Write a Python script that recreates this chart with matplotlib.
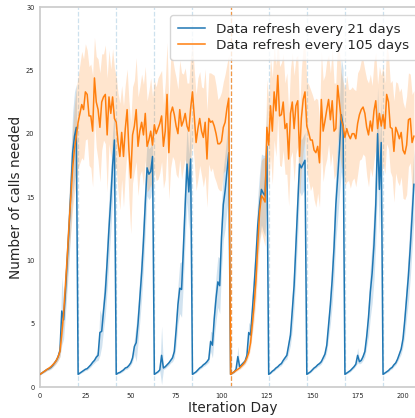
import numpy as np
import matplotlib
matplotlib.use("Agg")
import matplotlib.pyplot as plt

# ---------------- data ----------------
days = list(range(0, 207))

# refresh every 21 days: mean per cycle
blue_c1 = [1.0,1.1,1.2,1.3,1.4,1.45,1.55,1.7,1.9,2.1,2.4,2.9,6.0,5.3,7.5,10.0,12.5,15.5,18.5,19.8,20.5]
blue_c2 = [1.0,1.1,1.2,1.3,1.4,1.45,1.6,1.75,1.95,2.1,2.35,2.5,4.3,4.4,6.0,7.5,9.9,12.5,14.8,17.5,19.5]
blue_c3 = [1.0,1.1,1.15,1.25,1.35,1.5,1.55,1.7,1.9,2.3,3.2,3.5,5.0,7.0,9.0,11.5,14.5,17.3,16.8,17.0,18.2]
blue_c4 = [1.0,1.1,1.2,1.35,2.5,1.5,1.6,1.75,1.9,2.1,2.3,2.8,4.5,6.5,7.8,7.7,10.9,14.4,17.6,15.4,18.0]
blue_c5 = [1.0,1.1,1.2,1.35,1.5,1.6,1.75,1.85,2.0,2.2,3.6,3.3,5.4,7.0,8.3,8.0,11.8,14.4,15.5,17.0,18.5]
blue_c6 = [1.0,1.1,1.2,1.4,2.4,1.6,1.75,1.9,2.05,2.5,4.3,4.1,6.0,8.0,10.2,12.8,14.4,15.6,15.3,15.1,19.0]
blue_c7 = [1.0,1.1,1.25,1.35,1.5,1.6,1.75,1.85,2.1,2.3,2.5,3.3,4.1,6.0,8.0,11.2,14.4,17.6,17.3,17.6,17.9]
blue_c8 = [1.0,1.1,1.2,1.35,1.5,1.6,1.75,1.85,2.0,2.3,2.6,3.3,4.9,6.5,8.5,11.0,14.4,16.5,18.8,21.5,20.6]
blue_c9 = [1.0,1.1,1.2,1.3,1.45,1.6,1.8,2.5,2.0,2.1,2.4,2.8,4.0,5.5,7.5,9.0,11.2,14.4,20.0,15.6,19.3]
blue_c10 = [1.0,1.1,1.2,1.3,1.45,1.55,1.75,1.9,2.2,2.6,3.0,3.8,5.3,7.0,8.8,11.0,13.5,16.0]

# refresh every 21 days: CI half-width per cycle
blue_s1 = [0.05,0.06,0.08,0.1,0.1,0.12,0.14,0.16,0.18,0.2,0.3,0.5,2.7,1.5,1.8,2.2,2.6,2.8,3.2,3.5,3.4]
blue_s2 = [0.05,0.06,0.08,0.1,0.1,0.12,0.14,0.16,0.18,0.2,0.3,0.4,1.8,1.2,1.5,1.8,2.2,2.5,2.5,2.6,2.5]
blue_s3 = [0.05,0.06,0.08,0.1,0.1,0.12,0.14,0.16,0.18,0.3,0.6,1.5,1.5,1.8,2.0,2.2,2.4,2.2,2.0,2.0,2.0]
blue_s4 = [0.05,0.06,0.08,0.1,2.3,0.12,0.14,0.16,0.18,0.2,0.3,0.5,1.2,1.5,2.0,2.2,2.6,2.8,3.0,3.0,3.0]
blue_s5 = [0.05,0.06,0.08,0.1,0.1,0.12,0.14,0.16,0.18,0.25,0.8,1.0,1.5,1.8,2.0,2.2,2.6,2.8,3.0,3.0,3.2]
blue_s6 = [0.05,0.06,0.08,0.1,0.8,0.12,0.14,0.16,0.18,0.3,0.8,0.8,1.5,1.8,2.0,2.3,2.6,2.8,3.0,3.2,3.5]
blue_s7 = [0.05,0.06,0.08,0.1,0.1,0.12,0.14,0.16,0.18,0.2,0.3,0.6,0.8,1.5,1.8,2.2,2.5,2.2,2.2,2.2,2.2]
blue_s8 = [0.05,0.06,0.08,0.1,0.1,0.12,0.14,0.16,0.18,0.2,0.3,0.5,1.0,1.5,2.0,2.4,2.8,3.2,3.6,4.5,4.5]
blue_s9 = [0.05,0.06,0.08,0.1,0.1,0.12,0.14,0.6,0.18,0.2,0.3,0.4,0.8,1.5,2.0,2.4,2.8,3.0,3.7,3.5,3.5]
blue_s10 = [0.05,0.06,0.08,0.1,0.1,0.12,0.14,0.16,0.2,0.3,0.4,0.6,1.2,1.5,2.0,2.4,2.6,2.8]

# refresh every 105 days: mean
orange_rise1 = [1.0,1.1,1.2,1.3,1.4,1.5,1.6,1.75,1.9,2.1,2.4,2.8,4.2,5.8,8.0,10.3,12.8,15.0,17.3,18.8,19.8]
orange_plat1 = [20.9,21.6,22.3,21.9,23.3,23.1,21.4,21.4,20.2,24.4,
                22.5,21.9,20.5,22.5,22.9,23.1,19.9,22.9,21.6,22.9,
                21.2,20.9,19.3,18.2,20.1,18.2,20.4,21.9,18.7,16.5,
                19.9,20.6,21.9,19.0,20.2,20.9,19.9,21.6,19.0,19.5,
                20.2,19.1,20.7,20.0,20.4,20.8,21.4,19.0,20.2,23.1,
                18.5,21.6,22.1,21.5,20.6,20.0,21.9,20.6,21.0,21.6,
                20.6,20.2,22.0,23.3,21.4,19.3,20.4,21.2,20.2,19.7,
                20.9,18.0,21.2,20.9,21.0,20.6,20.0,19.2,19.2,19.4,
                20.5,20.9,22.0,22.8]
orange_rise2 = [1.0,1.1,1.2,1.3,1.4,1.5,1.65,1.8,2.0,2.3,2.7,3.5,5.0,6.5,8.5,11.3,13.8,15.1,14.9,14.6,20.5]
orange_plat2 = [19.1,22.2,20.2,23.3,21.8,24.6,21.4,21.5,22.5,20.4,
                20.8,18.0,21.6,22.5,20.4,22.2,22.6,18.2,21.2,22.7,
                23.3,20.6,20.1,19.5,19.5,18.7,18.5,19.0,17.7,22.7,
                20.2,21.0,21.9,22.7,21.1,22.6,20.2,20.4,23.8,22.4,
                21.1,20.6,19.7,20.4,19.9,19.6,20.0,20.0,19.6,20.8,
                21.5,21.9,22.1,21.6,20.5,19.9,21.0,20.2,21.8,22.6,
                20.4,21.6,20.6,21.5,20.4,23.1,22.5,20.5,20.4,18.6,
                20.5,20.1,19.6,20.1,18.7,18.4,19.1,21.1,21.2,19.3,
                19.8]

# refresh every 105 days: CI half-width
orange_s_rise1 = [0.05,0.06,0.08,0.1,0.1,0.12,0.15,0.15,0.2,0.25,0.3,0.4,0.6,0.9,1.3,1.8,2.3,2.8,3.2,3.5,3.8]
orange_s_plat1 = [3.6,3.9,4.2,4.0,3.8,3.5,3.9,4.1,4.4,3.2,3.6,4.0,4.3,3.8,3.4,3.9,4.5,3.7,3.5,3.8,
                  4.0,3.6,3.9,4.2,3.7,4.0,3.5,3.2,3.9,4.4,3.8,3.6,4.1,3.9,3.5,3.8,4.0,3.7,3.6,3.9,
                  4.2,3.8,3.5,3.7,4.0,3.9,3.6,3.3,3.8,4.1,3.7,4.3,3.9,3.6,3.8,3.5,3.9,4.2,3.7,3.6,
                  3.4,3.8,4.1,3.9,3.6,3.8,4.0,3.7,3.5,3.9,4.2,3.8,3.6,3.9,3.7,4.0,3.8,3.5,3.7,3.9,
                  3.6,3.8,3.5,3.4]
orange_s_rise2 = [0.05,0.06,0.08,0.1,0.1,0.12,0.15,0.15,0.2,0.25,0.3,0.5,0.8,1.2,1.6,2.0,2.4,2.8,3.2,3.5,3.8]
orange_s_plat2 = [3.5,3.9,4.2,3.8,3.6,3.2,3.9,4.1,3.8,3.6,4.0,3.7,3.5,3.9,4.2,3.8,3.6,3.4,3.9,4.1,
                  3.7,3.5,3.8,4.0,3.6,3.9,4.3,3.7,3.5,3.8,4.0,3.6,3.9,3.5,3.7,4.1,3.8,3.6,3.9,4.0,
                  3.7,3.5,3.8,4.2,3.6,3.9,3.7,3.5,3.8,4.0,3.6,3.9,3.7,3.4,3.8,4.1,3.7,3.6,3.9,3.8,
                  3.5,3.7,4.0,3.8,3.6,3.9,3.7,3.5,3.8,4.0,3.6,3.9,3.7,3.5,3.8,3.6,3.9,3.7,3.5,3.8,
                  3.6]

refresh_blue = [21, 42, 63, 84, 105, 126, 147, 168, 189]
refresh_orange = [105]
labels = ["Data refresh every 21 days", "Data refresh every 105 days"]
xticks = [0, 25, 50, 75, 100, 125, 150, 175, 200]
yticks = [0, 5, 10, 15, 20, 25, 30]

# ---------------- assemble ----------------
blue_mean = np.array(blue_c1 + blue_c2 + blue_c3 + blue_c4 + blue_c5 + blue_c6 + blue_c7 + blue_c8 + blue_c9 + blue_c10)
blue_spread = np.array(blue_s1 + blue_s2 + blue_s3 + blue_s4 + blue_s5 + blue_s6 + blue_s7 + blue_s8 + blue_s9 + blue_s10)
orange_mean = np.array(orange_rise1 + orange_plat1 + orange_rise2 + orange_plat2)
orange_spread = np.array(orange_s_rise1 + orange_s_plat1 + orange_s_rise2 + orange_s_plat2)
x = np.array(days)

BLUE = "#1f77b4"
ORANGE = "#ff7f0e"

fig = plt.figure(figsize=(4.15, 4.18), dpi=100)
ax = fig.add_axes([40 / 415, 31 / 418, 385 / 415, 380 / 418])

for d in refresh_blue:
    ax.axvline(d, color=BLUE, ls="--", lw=0.9, alpha=0.22, zorder=1)
for d in refresh_orange:
    ax.axvline(d, color=ORANGE, ls="--", lw=0.9, alpha=0.75, zorder=1)

ax.fill_between(x, blue_mean - blue_spread, blue_mean + blue_spread, color=BLUE, alpha=0.2, lw=0, zorder=2)
ax.fill_between(x, orange_mean - orange_spread, orange_mean + orange_spread, color=ORANGE, alpha=0.2, lw=0, zorder=2)
ax.plot(x, blue_mean, color=BLUE, lw=1.1, label=labels[0], zorder=3)
ax.plot(x, orange_mean, color=ORANGE, lw=1.1, label=labels[1], zorder=3)

ax.set_xlim(0, 385 / 1.815)
ax.set_ylim(0, 30)
ax.set_xticks(xticks)
ax.set_yticks(yticks)
ax.tick_params(axis="both", length=0, labelsize=4.8, labelcolor="0.15", pad=4)
for sp in ax.spines.values():
    sp.set_color("0.8")
    sp.set_linewidth(1.25)

ax.set_xlabel("Iteration Day", fontsize=9.8, color="0.15", labelpad=2)
ax.set_ylabel("Number of calls needed", fontsize=9.8, color="0.15", labelpad=2)

leg = ax.legend(loc="upper right", fontsize=9.7, frameon=True, fancybox=True,
                labelspacing=0.2, borderpad=0.6, borderaxespad=0.6)
leg.get_frame().set_edgecolor("0.8")
for t in leg.get_texts():
    t.set_color("0.15")

fig.savefig("out.png", dpi=100)
